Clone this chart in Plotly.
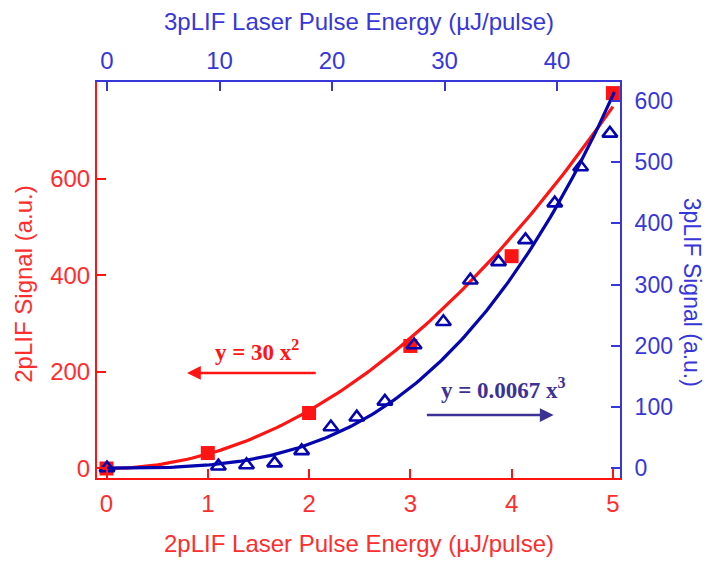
import numpy as np
import plotly.graph_objects as go

# 2pLIF: laser pulse energy (uJ/pulse) vs signal (a.u.)
e2p = [0, 1, 2, 3, 4, 5]
s2p = [0, 32, 115, 254, 440, 778]

# 3pLIF: laser pulse energy (uJ/pulse) vs signal (a.u.)
e3p = [0, 9.9, 12.4, 14.9, 17.3, 19.9, 22.2, 24.7, 27.3, 29.9, 32.3, 34.8, 37.2, 39.8, 42.1, 44.7]
s3p = [0, 3, 5, 8, 28, 67, 83, 109, 201, 239, 307, 337, 373, 433, 492, 547]

# power-law fit coefficients
k2, k3 = 30.0, 0.0067

bottom_ticks = [0, 1, 2, 3, 4, 5]
top_ticks = [0, 10, 20, 30, 40]
left_ticks = [0, 200, 400, 600]
right_ticks = [0, 100, 200, 300, 400, 500, 600]

RED = "rgb(255,20,20)"
RED_TXT = "rgb(255,45,45)"
BLUE_AX = "rgb(55,55,215)"
BLUE_DATA = "rgb(5,5,175)"
NAVY_TXT = "rgb(60,50,150)"
SANS = "Liberation Sans, Arial, sans-serif"
SERIF = "Liberation Serif, Times New Roman, serif"

xf2 = np.linspace(0, 5, 120)
xf3 = np.linspace(0, 45.1, 160)

fig = go.Figure()
fig.add_trace(go.Scatter(x=xf2, y=k2 * xf2 ** 2, mode="lines",
                         line=dict(color=RED, width=3.2), xaxis="x", yaxis="y",
                         showlegend=False, hoverinfo="skip"))
fig.add_trace(go.Scatter(x=e2p, y=s2p, mode="markers",
                         marker=dict(symbol="square", size=14, color=RED),
                         xaxis="x", yaxis="y", showlegend=False))
fig.add_trace(go.Scatter(x=xf3, y=k3 * xf3 ** 3, mode="lines",
                         line=dict(color=BLUE_DATA, width=3.2), xaxis="x2", yaxis="y2",
                         showlegend=False, hoverinfo="skip"))
fig.add_trace(go.Scatter(x=e3p, y=s3p, mode="markers",
                         marker=dict(symbol="triangle-up-open", size=13,
                                     color=BLUE_DATA, line=dict(width=2.6, color=BLUE_DATA)),
                         xaxis="x2", yaxis="y2", showlegend=False))

common = dict(showgrid=False, zeroline=False, showline=True, linewidth=2,
              ticks="inside", ticklen=9, tickwidth=2)

fig.update_layout(
    width=707, height=561,
    margin=dict(l=97, r=87, t=82, b=83),
    paper_bgcolor="white", plot_bgcolor="white",
    xaxis=dict(range=[-0.094, 5.07], tickvals=bottom_ticks, linecolor=RED,
               tickcolor=RED, tickfont=dict(family=SANS, size=24, color=RED_TXT),
               ticklabelstandoff=3, **common),
    xaxis2=dict(range=[-0.89, 45.6], tickvals=top_ticks, overlaying="x", side="top",
                anchor="y2", linecolor=BLUE_AX, tickcolor=BLUE_AX,
                tickfont=dict(family=SANS, size=24, color=BLUE_AX),
                ticklabelstandoff=1, **common),
    yaxis=dict(range=[-19.7, 801], tickvals=left_ticks, linecolor=RED, tickcolor=RED,
               tickfont=dict(family=SANS, size=24, color=RED_TXT),
               ticklabelstandoff=0, **common),
    yaxis2=dict(range=[-16.3, 631], tickvals=right_ticks, overlaying="y", side="right",
                anchor="x2", linecolor=BLUE_AX, tickcolor=BLUE_AX,
                tickfont=dict(family=SANS, size=23, color=BLUE_AX),
                ticklabelstandoff=8, **common),
)

# axis titles
fig.add_annotation(text="2pLIF Laser Pulse Energy (µJ/pulse)", xref="paper", yref="paper",
                   x=0.5, y=-0.165, showarrow=False, yanchor="middle",
                   font=dict(family=SANS, size=24, color=RED_TXT))
fig.add_annotation(text="3pLIF Laser Pulse Energy (µJ/pulse)", xref="paper", yref="paper",
                   x=0.5, y=1.152, showarrow=False, yanchor="middle",
                   font=dict(family=SANS, size=24, color=BLUE_AX))
fig.add_annotation(text="2pLIF Signal (a.u.)", xref="paper", yref="paper",
                   x=-0.14, y=0.49, showarrow=False, textangle=-90, xanchor="center",
                   font=dict(family=SANS, size=24, color=RED_TXT))
fig.add_annotation(text="3pLIF Signal (a.u.)", xref="paper", yref="paper",
                   x=1.138, y=0.47, showarrow=False, textangle=90, xanchor="center",
                   font=dict(family=SANS, size=23, color=BLUE_AX))

# fit equations with arrows pointing to their axes
fig.add_annotation(text="<b>y = 30 x<sup>2</sup></b>", xref="x", yref="y", x=1.49, y=245,
                   showarrow=False, font=dict(family=SERIF, size=23, color=RED))
fig.add_annotation(x=0.795, y=198, ax=2.08, ay=198, xref="x", yref="y", axref="x", ayref="y",
                   text="", showarrow=True, arrowhead=2, arrowsize=1.1, arrowwidth=2.5,
                   arrowcolor=RED)
fig.add_annotation(text="<b>y = 0.0067 x<sup>3</sup></b>", xref="x2", yref="y2", x=35.2, y=130,
                   showarrow=False, font=dict(family=SERIF, size=23, color=NAVY_TXT))
fig.add_annotation(x=39.7, y=86.6, ax=28.3, ay=86.6, xref="x2", yref="y2", axref="x2", ayref="y2",
                   text="", showarrow=True, arrowhead=2, arrowsize=1.1, arrowwidth=2.5,
                   arrowcolor=NAVY_TXT)

fig.write_html("out.html")
